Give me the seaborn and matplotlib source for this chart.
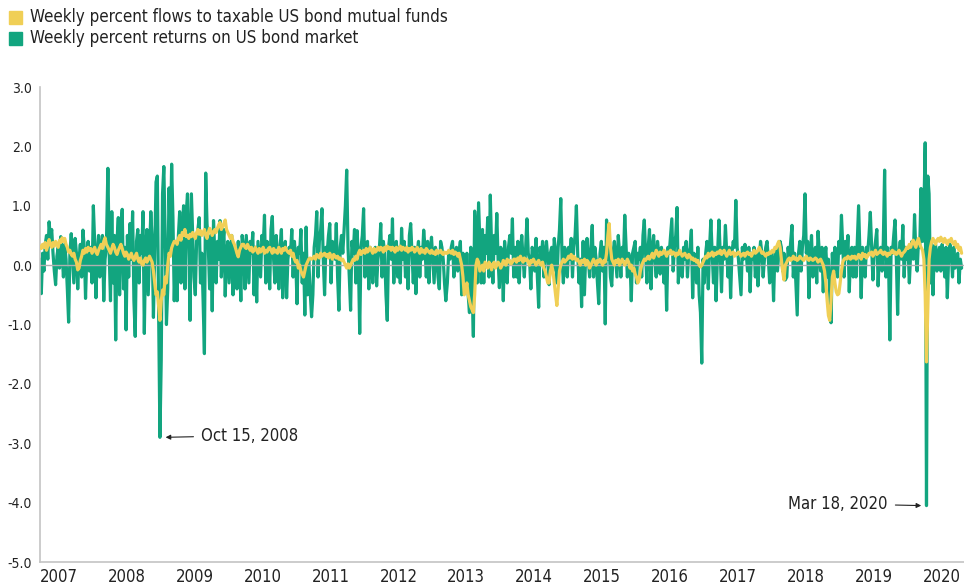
import pandas as pd
import matplotlib.pyplot as plt
import seaborn as sns
from matplotlib.patches import Rectangle
from matplotlib import font_manager as fm

# weekly percent returns on US bond market, one list per calendar year
ret_2007 = [0.1, -0.48, 0.2, -0.1, 0.35, 0.5, 0.1, 0.73, 0.45, 0.6, 0.2, -0.1, -0.33, 0.15, 0.3, -0.05, 0.48, 0.2,
            -0.2, 0.35, 0.1, -0.4, -0.96, 0.2, 0.53, 0.1, -0.3, 0.45, 0.2, -0.4, 0.1, 0.35, -0.2, 0.59, 0.3, -0.56,
            0.2, 0.4, -0.1, 0.3, -0.3, 1.0, 0.4, -0.55, 0.2, 0.5, -0.2, 0.3, 0.5, -0.6, 0.1, 0.3]
ret_2008 = [1.63, 0.2, -0.6, 0.9, -0.3, 0.5, -1.26, 0.4, 0.8, -0.5, 0.6, 0.94, -0.4, 0.3, -1.09, 0.5, -0.2, 0.7,
            0.1, 0.9, -0.6, -1.2, 0.4, 0.6, -0.3, 0.5, 0.2, 0.9, -1.15, 0.3, 0.6, -0.5, 0.2, 0.9, 0.4, -0.88, 0.3,
            1.4, 1.5, -0.8, -2.9, -1.6, 1.2, 1.66, 0.5, -1.0, -0.4, 1.3, 0.3, 1.7, 0.8, -0.6]
ret_2009 = [0.4, -0.6, 0.5, 0.9, -0.3, 0.6, 1.0, -0.4, 0.86, 1.2, 0.3, -0.93, 1.2, 0.5, -0.2, -0.5, 0.4, 0.6, 0.8,
            -0.3, 0.2, -0.6, -1.49, 1.55, 0.7, 0.3, -0.4, 0.5, -0.77, 0.75, 0.2, -0.3, 0.4, 0.1, 0.75, -0.2, 0.3,
            0.6, -0.52, 0.2, 0.4, -0.3, 0.1, 0.5, -0.5, 0.3, 0.2, -0.4, 0.4, 0.1, -0.6, 0.5]
ret_2010 = [0.3, -0.4, 0.5, 0.1, -0.3, 0.4, 0.2, 0.55, -0.5, 0.3, -0.62, 0.4, 0.1, -0.2, 0.5, 0.3, 0.84, -0.3, 0.4,
            0.2, -0.4, 0.6, 0.82, 0.1, -0.3, 0.5, 0.2, -0.4, 0.3, 0.6, -0.55, 0.2, 0.4, -0.55, 0.1, 0.3, 0.2, 0.6,
            -0.2, 0.4, 0.1, -0.65, 0.3, 0.2, 0.6, -0.3, 0.2, -0.84, 0.64, -0.5, 0.1, -0.4]
ret_2011 = [-0.87, -0.5, 0.3, 0.5, 0.9, -0.2, 0.4, 0.6, 0.95, 0.1, -0.5, 0.3, 0.2, 0.5, 0.7, -0.3, 0.4, 0.2, 0.1,
            0.7, -0.2, -0.76, 0.3, 0.5, 0.2, 0.6, 1.0, 1.6, 0.3, -0.2, -0.76, 0.4, 0.2, 0.6, -0.3, 0.58, 0.1, -1.15,
            0.3, 0.5, 0.95, -0.2, 0.3, 0.4, -0.4, 0.3, 0.1, -0.3, 0.2, 0.3, -0.35, 0.1]
ret_2012 = [0.3, 0.7, -0.2, 0.4, 0.2, -0.5, -0.93, 0.3, 0.5, 0.1, 0.78, -0.3, 0.2, 0.4, -0.2, 0.3, -0.3, 0.62, 0.1,
            0.4, -0.2, 0.3, -0.4, 0.5, 0.7, 0.2, -0.3, 0.3, -0.48, 0.2, 0.4, -0.2, 0.3, 0.1, 0.59, 0.3, -0.2, 0.4,
            -0.3, 0.2, 0.47, 0.1, -0.3, 0.3, 0.2, -0.2, -0.4, 0.4, 0.3, 0.1, -0.3, -0.6]
ret_2013 = [-0.3, 0.2, 0.1, 0.3, 0.4, -0.2, 0.2, 0.3, -0.1, 0.2, 0.4, -0.5, 0.2, 0.1, -0.3, 0.2, -0.5, -0.8, 0.3,
            -0.4, -1.2, 0.91, 0.5, -0.3, 1.05, 0.4, -0.3, 0.6, -0.3, 0.5, 0.2, 0.8, -0.2, 1.18, 0.3, -0.3, 0.5, 0.2,
            0.87, 0.1, -0.38, 0.3, 0.2, -0.6, 0.4, 0.1, -0.3, 0.3, 0.5, 0.2, 0.78, -0.2]
ret_2014 = [0.3, -0.2, 0.4, -0.3, 0.2, 0.5, 0.1, -0.2, 0.3, 0.78, 0.2, 0.1, -0.4, 0.3, 0.2, -0.1, 0.45, -0.2, -0.71,
            0.3, 0.1, 0.4, -0.2, 0.2, 0.4, 0.1, -0.33, 0.2, 0.3, -0.1, 0.45, 0.2, -0.3, 0.3, 0.6, 1.12, 0.1, -0.3,
            0.3, 0.2, -0.2, 0.3, 0.1, 0.45, -0.2, 0.3, 0.5, 1.0, 0.2, -0.3, 0.1, -0.7]
ret_2015 = [0.4, -0.5, 0.2, 0.45, 0.1, -0.2, 0.3, 0.67, -0.2, 0.3, 0.1, -0.3, -0.65, 0.2, 0.4, -0.1, 0.3, -0.99,
            0.76, 0.1, 0.3, -0.2, -0.35, 0.2, 0.4, 0.1, -0.2, 0.5, 0.2, -0.2, 0.3, 0.1, 0.84, 0.3, -0.2, 0.2, 0.1,
            -0.6, 0.2, 0.3, 0.4, -0.3, 0.2, 0.1, 0.3, -0.2, 0.5, 0.76, 0.2, -0.3, 0.3, 0.6]
ret_2016 = [-0.4, 0.3, 0.5, 0.1, -0.2, 0.4, 0.2, -0.15, 0.3, 0.1, -0.3, 0.2, -0.76, 0.3, 0.2, 0.5, 0.78, -0.1, 0.3,
            0.5, 0.97, -0.3, 0.2, 0.1, -0.2, 0.3, 0.1, 0.4, -0.2, 0.2, 0.3, 0.59, -0.55, 0.2, 0.1, -0.3, 0.3, -0.5,
            -0.8, -1.65, 0.1, -0.3, 0.2, 0.4, -0.4, 0.3, 0.76, 0.2, -0.3, 0.3, -0.6, 0.1]
ret_2017 = [0.76, 0.2, -0.45, 0.3, 0.1, 0.67, 0.2, -0.2, 0.3, -0.55, 0.2, 0.4, 0.3, 1.09, 0.3, 0.1, -0.2, -0.5, 0.3,
            0.1, 0.35, 0.2, -0.1, 0.3, -0.45, 0.2, 0.1, 0.3, -0.2, 0.2, -0.35, 0.1, 0.4, 0.2, -0.2, 0.1, 0.3, 0.4,
            0.1, -0.3, 0.2, 0.1, -0.6, 0.2, 0.3, -0.1, 0.2, 0.4, 0.3, -0.1, 0.2, -0.25]
ret_2018 = [-0.2, 0.3, 0.1, 0.4, 0.67, -0.2, 0.2, -0.3, -0.84, 0.2, 0.4, -0.1, 0.3, 0.5, 1.2, 0.2, 0.4, -0.55, 0.2,
            0.5, -0.2, 0.1, 0.3, -0.3, 0.57, 0.2, -0.1, 0.3, -0.45, 0.1, 0.3, -0.2, 0.1, -0.5, -0.97, 0.2, -0.3,
            0.3, 0.1, -0.2, 0.4, 0.2, 0.84, 0.3, -0.2, 0.4, 0.1, 0.5, -0.45, 0.2, 0.3, -0.2]
ret_2019 = [0.3, -0.2, 0.4, 1.0, 0.2, -0.55, 0.3, 0.1, -0.2, 0.3, 0.2, 0.5, 0.89, 0.3, -0.25, 0.2, 0.4, 0.6, -0.35,
            0.2, 0.3, -0.1, 0.4, 1.6, -0.2, 0.3, 0.1, -1.26, 0.3, 0.2, 0.5, 0.76, 0.1, -0.83, 0.2, 0.4, 0.1, 0.67,
            -0.2, 0.3, 0.1, 0.3, -0.3, 0.2, 0.4, 0.1, 0.85, 0.2, -0.1, 0.4, 0.3, 1.29]
ret_2020 = [0.4, 0.9, 2.06, -4.05, 1.5, 1.2, -0.3, 0.35, -0.5, 0.3, 0.35, -0.1, 0.2, 0.3, -0.1, 0.35, 0.2, -0.2,
            0.3, -0.55, 0.1, 0.35, 0.2, -0.2, 0.3, -0.05, 0.1, 0.2, -0.3, 0.1, -0.05]

# weekly percent flows to taxable US bond mutual funds
flow_2007 = [0.32, 0.28, 0.35, 0.3, 0.38, 0.25, 0.33, 0.43, 0.35, 0.3, 0.38, 0.32, 0.4, 0.35, 0.3, 0.42, 0.38,
             0.46, 0.4, 0.45, 0.35, 0.3, 0.22, 0.25, 0.18, 0.15, 0.2, 0.1, 0.05, -0.08, -0.05, 0.08, 0.15, 0.25,
             0.2, 0.28, 0.22, 0.3, 0.25, 0.28, 0.2, 0.25, 0.3, 0.22, 0.18, 0.25, 0.3, 0.35, 0.28, 0.4, 0.46, 0.35]
flow_2008 = [0.3, 0.25, 0.2, 0.28, 0.35, 0.3, 0.22, 0.18, 0.25, 0.3, 0.35, 0.28, 0.2, 0.15, 0.22, 0.18, 0.1, 0.15,
             0.2, 0.12, 0.08, 0.15, 0.2, 0.1, 0.05, 0.12, 0.02, 0.0, 0.08, 0.12, 0.05, 0.1, 0.15, 0.1, 0.05, -0.1,
             -0.3, -0.5, -0.45, -0.7, -0.93, -0.6, -0.42, -0.5, -0.2, -0.3, 0.0, 0.2, 0.15, 0.29, 0.35, 0.4]
flow_2009 = [0.4, 0.35, 0.45, 0.5, 0.42, 0.55, 0.5, 0.6, 0.48, 0.5, 0.45, 0.52, 0.48, 0.55, 0.5, 0.45, 0.55, 0.6,
             0.52, 0.58, 0.5, 0.55, 0.6, 0.5, 0.45, 0.55, 0.62, 0.58, 0.5, 0.55, 0.6, 0.55, 0.62, 0.68, 0.72, 0.6,
             0.65, 0.7, 0.76, 0.6, 0.55, 0.5, 0.45, 0.5, 0.4, 0.35, 0.28, 0.2, 0.14, 0.25, 0.3, 0.35]
flow_2010 = [0.35, 0.3, 0.28, 0.35, 0.3, 0.25, 0.3, 0.22, 0.25, 0.3, 0.25, 0.2, 0.28, 0.22, 0.25, 0.3, 0.2, 0.25,
             0.22, 0.28, 0.3, 0.25, 0.2, 0.28, 0.22, 0.25, 0.2, 0.3, 0.25, 0.2, 0.28, 0.25, 0.3, 0.25, 0.22, 0.2,
             0.25, 0.15, 0.2, 0.1, 0.05, 0.08, -0.05, 0.0, -0.1, -0.15, -0.2, -0.1, 0.0, 0.05, 0.1, 0.12]
flow_2011 = [0.1, 0.12, 0.15, 0.1, 0.18, 0.15, 0.12, 0.2, 0.15, 0.18, 0.2, 0.15, 0.18, 0.12, 0.2, 0.15, 0.1, 0.18,
             0.15, 0.12, 0.15, 0.1, 0.12, 0.08, 0.1, 0.05, 0.0, -0.05, 0.02, -0.05, 0.0, 0.05, 0.1, 0.08, 0.15, 0.1,
             0.2, 0.25, 0.18, 0.22, 0.25, 0.2, 0.28, 0.22, 0.25, 0.3, 0.25, 0.2, 0.28, 0.22, 0.25, 0.3]
flow_2012 = [0.25, 0.3, 0.28, 0.22, 0.3, 0.25, 0.32, 0.28, 0.3, 0.25, 0.3, 0.28, 0.22, 0.3, 0.25, 0.28, 0.32, 0.25,
             0.3, 0.28, 0.25, 0.3, 0.22, 0.28, 0.25, 0.3, 0.28, 0.22, 0.25, 0.3, 0.25, 0.2, 0.28, 0.22, 0.25, 0.2,
             0.28, 0.25, 0.22, 0.2, 0.25, 0.2, 0.22, 0.18, 0.25, 0.2, 0.22, 0.25, 0.2, 0.18, 0.22, 0.2]
flow_2013 = [0.2, 0.25, 0.22, 0.2, 0.25, 0.18, 0.22, 0.2, 0.15, 0.2, 0.1, 0.0, -0.2, -0.5, -0.45, -0.3, -0.5, -0.6,
             -0.7, -0.75, -0.8, -0.5, 0.0, 0.1, 0.05, -0.1, -0.05, 0.0, -0.1, 0.05, 0.0, -0.05, 0.05, 0.0, -0.08,
             0.02, 0.05, -0.05, 0.0, 0.05, 0.02, -0.05, 0.0, 0.08, 0.05, 0.0, 0.1, 0.05, 0.08, 0.02, 0.05, 0.1]
flow_2014 = [0.1, 0.05, 0.12, 0.08, 0.15, 0.1, 0.05, 0.12, 0.08, 0.1, 0.05, 0.0, 0.08, 0.05, 0.1, 0.05, 0.0, 0.05,
             0.08, 0.02, 0.0, 0.05, -0.05, -0.1, -0.2, -0.3, -0.3, -0.1, 0.0, -0.1, -0.3, -0.5, -0.68, -0.4, -0.1,
             0.0, 0.05, 0.1, 0.05, 0.08, 0.1, 0.15, 0.12, 0.18, 0.1, 0.15, 0.12, 0.08, 0.1, 0.05, 0.0, 0.08]
flow_2015 = [0.05, 0.1, 0.0, 0.08, 0.05, -0.05, 0.0, 0.05, 0.1, 0.05, 0.0, 0.08, 0.05, 0.1, 0.05, 0.0, 0.08, 0.05,
             0.2, 0.5, 0.7, 0.3, 0.1, 0.05, 0.0, 0.08, 0.05, 0.1, 0.0, 0.05, 0.1, 0.05, 0.0, 0.05, 0.1, 0.05, -0.05,
             0.0, -0.1, -0.05, -0.15, -0.2, -0.3, -0.25, -0.1, 0.0, 0.05, 0.1, 0.08, 0.12, 0.15, 0.1]
flow_2016 = [0.15, 0.2, 0.12, 0.18, 0.25, 0.2, 0.15, 0.22, 0.18, 0.2, 0.25, 0.2, 0.15, 0.22, 0.2, 0.25, 0.18, 0.22,
             0.2, 0.15, 0.2, 0.18, 0.25, 0.2, 0.15, 0.18, 0.2, 0.15, 0.12, 0.18, 0.15, 0.1, 0.12, 0.08, 0.1, 0.05,
             0.08, 0.0, -0.03, 0.0, 0.05, 0.1, 0.15, 0.12, 0.2, 0.15, 0.18, 0.22, 0.15, 0.2, 0.18, 0.22]
flow_2017 = [0.2, 0.25, 0.18, 0.22, 0.25, 0.2, 0.15, 0.2, 0.25, 0.18, 0.2, 0.22, 0.15, 0.2, 0.18, 0.22, 0.2, 0.15,
             0.18, 0.2, 0.15, 0.2, 0.22, 0.18, 0.2, 0.15, 0.2, 0.25, 0.2, 0.22, 0.25, 0.3, 0.25, 0.2, 0.22, 0.18,
             0.15, 0.2, 0.18, 0.22, 0.2, 0.25, 0.22, 0.3, 0.28, 0.35, 0.4, 0.3, 0.1, -0.1, -0.25, 0.0]
flow_2018 = [0.05, 0.1, 0.12, 0.08, 0.1, 0.15, 0.1, 0.12, 0.08, 0.1, 0.15, 0.12, 0.1, 0.08, 0.12, 0.15, 0.1, 0.08,
             0.12, 0.1, 0.08, 0.1, 0.12, 0.1, 0.05, 0.08, 0.1, 0.05, 0.0, -0.1, -0.3, -0.6, -0.85, -0.93, -0.6,
             -0.2, -0.1, -0.3, -0.45, -0.5, -0.48, -0.3, -0.1, 0.05, 0.1, 0.12, 0.1, 0.15, 0.12, 0.1, 0.15, 0.12]
flow_2019 = [0.15, 0.1, 0.12, 0.18, 0.15, 0.1, 0.2, 0.15, 0.18, 0.12, 0.15, 0.2, 0.18, 0.22, 0.15, 0.2, 0.25, 0.18,
             0.2, 0.22, 0.25, 0.2, 0.18, 0.22, 0.2, 0.15, 0.2, 0.18, 0.22, 0.25, 0.2, 0.22, 0.18, 0.2, 0.25, 0.2,
             0.15, 0.2, 0.22, 0.25, 0.3, 0.28, 0.35, 0.3, 0.38, 0.42, 0.35, 0.3, 0.4, 0.45, 0.35, 0.3]
flow_2020 = [0.25, 0.1, -0.5, -1.63, -0.8, 0.1, 0.3, 0.4, 0.45, 0.4, 0.35, 0.42, 0.45, 0.4, 0.47, 0.42, 0.38, 0.45,
             0.4, 0.35, 0.42, 0.4, 0.45, 0.38, 0.35, 0.4, 0.3, 0.35, 0.25, 0.3, 0.2]

years = list(range(2007, 2021))
returns = [ret_2007, ret_2008, ret_2009, ret_2010, ret_2011, ret_2012, ret_2013,
           ret_2014, ret_2015, ret_2016, ret_2017, ret_2018, ret_2019, ret_2020]
flows = [flow_2007, flow_2008, flow_2009, flow_2010, flow_2011, flow_2012, flow_2013,
         flow_2014, flow_2015, flow_2016, flow_2017, flow_2018, flow_2019, flow_2020]

rows = []
for yr, r, f in zip(years, returns, flows):
    for i, (a, b) in enumerate(zip(r, f)):
        rows.append((yr + i / 52.18, a, b))
df = pd.DataFrame(rows, columns=["date", "returns", "flows"])

GREEN = "#12a57f"
YELLOW = "#f0cf56"
GREY = "#c4c4c4"
INK = "#222222"

sns.set_style("white")
plt.rcParams["font.family"] = ["DejaVu Sans"]
# narrow face if the condensed DejaVu is installed, otherwise shrink the text a bit
condensed = "Condensed" in fm.findfont(fm.FontProperties(family="DejaVu Sans", stretch="condensed"))
if condensed:
    plt.rcParams["font.stretch"] = "condensed"
    scale = 1.0
else:
    scale = 0.88

fig = plt.figure(figsize=(9.64, 5.86), dpi=100)
ax = fig.add_axes([40 / 964, 24 / 586, 924 / 964, 475 / 586])

sns.lineplot(data=df, x="date", y="returns", color=GREEN, lw=2.3, estimator=None, ax=ax, zorder=2)
ax.axhline(0, color="#b0b0b0", lw=1, zorder=2.5)
sns.lineplot(data=df, x="date", y="flows", color=YELLOW, lw=2.3, estimator=None, ax=ax, zorder=3)

ax.set_xlim(2007, 2020.61)
ax.set_ylim(-5, 3)
ax.set_xlabel("")
ax.set_ylabel("")

ax.set_yticks(range(-5, 4))
ax.set_yticklabels([f"{v:.1f}" for v in range(-5, 4)])
ax.set_xticks(years)
ax.set_xticklabels([str(y) for y in years])
for lab in ax.get_xticklabels():
    lab.set_horizontalalignment("left")
ax.tick_params(axis="x", length=0, pad=4, labelsize=12 * scale, colors=INK)
ax.tick_params(axis="y", length=4, width=1, color=GREY, labelsize=10 * scale, pad=2, labelcolor=INK)

for side in ["top", "right"]:
    ax.spines[side].set_visible(False)
for side in ["left", "bottom"]:
    ax.spines[side].set_color(GREY)
    ax.spines[side].set_linewidth(1.2)

arrow = dict(arrowstyle="-|>", color=INK, lw=0.8, mutation_scale=7, shrinkA=3, shrinkB=0)
ax.annotate("Oct 15, 2008", xy=(2008.85, -2.9), xytext=(2009.37, -2.87), ha="left", va="center",
            fontsize=12 * scale, color=INK, arrowprops=arrow)
ax.annotate("Mar 18, 2020", xy=(2019.98, -4.05), xytext=(2019.49, -4.02), ha="right", va="center",
            fontsize=12 * scale, color=INK, arrowprops=arrow)

# legend drawn by hand, top left of the figure
legend_items = [("Weekly percent flows to taxable US bond mutual funds", YELLOW, 17),
                ("Weekly percent returns on US bond market", GREEN, 38)]
for label, col, yc in legend_items:
    fig.patches.append(Rectangle((9 / 964, 1 - (yc + 7) / 586), 13 / 964, 13 / 586,
                                 transform=fig.transFigure, color=col))
    fig.text(30 / 964, 1 - yc / 586, label, fontsize=12.2 * scale,
             va="center", ha="left", color=INK)

fig.savefig("out.png", dpi=100)
